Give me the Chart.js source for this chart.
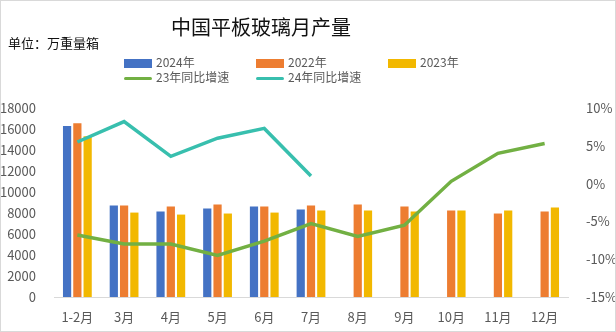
<!DOCTYPE html>
<html lang="zh">
<head>
    <meta charset="UTF-8">
    <title>中国平板玻璃月产量</title>
    <script src="https://cdn.jsdelivr.net/npm/chart.js"></script>
    <style>
        body {
            margin: 0;
            background: white;
            font-family: "Noto Sans CJK SC", sans-serif;
        }
        .wrap {
            position: relative;
            width: 614px;
            height: 330px;
            border: 1px solid #d9d9d9;
            overflow: hidden;
        }
        canvas {
            position: absolute;
            left: -1px;
            top: -1px;
        }
        .title {
            position: absolute;
            left: 0;
            width: 520px;
            top: 11px;
            text-align: center;
            font-size: 20px;
            color: #111;
        }
        .unit {
            position: absolute;
            left: 7px;
            top: 32px;
            font-size: 13px;
            color: #111;
        }
        .legend-item {
            position: absolute;
            font-size: 12px;
            color: #595959;
            line-height: 14px;
            white-space: nowrap;
        }
        .legend-item i {
            display: inline-block;
            width: 28px;
            margin-right: 4px;
            vertical-align: middle;
        }
    </style>
</head>
<body>

<div class="wrap">
    <canvas id="glassChart" width="616" height="332"></canvas>
    <div class="title">中国平板玻璃月产量</div>
    <div class="unit">单位：万重量箱</div>
    <div id="legend"></div>
</div>

<script>
    // monthly output, 10k weight boxes
    const months = ['1-2月', '3月', '4月', '5月', '6月', '7月', '8月', '9月', '10月', '11月', '12月'];
    const prod2024 = [16280, 8710, 8140, 8430, 8620, 8330, null, null, null, null, null];
    const prod2022 = [16540, 8710, 8620, 8810, 8620, 8710, 8810, 8620, 8230, 7950, 8140];
    const prod2023 = [15300, 8040, 7850, 7950, 8040, 8230, 8230, 8140, 8230, 8230, 8520];

    // year-on-year growth, %
    const yoy23 = [-6.8, -8.0, -8.0, -9.5, -7.6, -5.3, -7.0, -5.5, 0.3, 4.0, 5.3];
    const yoy24 = [5.5, 8.2, 3.6, 6.0, 7.3, 1.0, null, null, null, null, null];

    const blue = '#4472c4', orange = '#ed7d31', yellow = '#f2b800';
    const green = '#72b043', teal = '#38bfae';

    const axisFont = { family: '"Noto Sans CJK SC", sans-serif', size: 13 };

    let ctx = document.getElementById('glassChart').getContext('2d');
    let glassChart = new Chart(ctx, {
        data: {
            labels: months,
            datasets: [
                { type: 'bar', label: '2024年', data: prod2024, backgroundColor: blue, yAxisID: 'y', order: 2 },
                { type: 'bar', label: '2022年', data: prod2022, backgroundColor: orange, yAxisID: 'y', order: 2 },
                { type: 'bar', label: '2023年', data: prod2023, backgroundColor: yellow, yAxisID: 'y', order: 2 },
                {
                    type: 'line', label: '23年同比增速', data: yoy23, borderColor: green,
                    borderWidth: 3.5, pointRadius: 0, tension: 0, yAxisID: 'y1', order: 1
                },
                {
                    type: 'line', label: '24年同比增速', data: yoy24, borderColor: teal,
                    borderWidth: 3.5, pointRadius: 0, tension: 0, yAxisID: 'y1', order: 1
                }
            ]
        },
        options: {
            responsive: false,
            animation: false,
            layout: { padding: { top: 108, left: 0, right: 0, bottom: 0 } },
            datasets: {
                bar: { categoryPercentage: 0.66, barPercentage: 0.8 }
            },
            scales: {
                x: {
                    grid: { display: false },
                    border: { display: true, color: '#d9d9d9', width: 1 },
                    ticks: { color: '#595959', font: axisFont, padding: 4, maxRotation: 0 },
                    afterFit: s => { s.height = 35; }
                },
                y: {
                    position: 'left',
                    min: 0, max: 18000,
                    grid: { display: false },
                    border: { display: false },
                    ticks: { stepSize: 2000, color: '#595959', font: axisFont, padding: 10, callback: v => String(v) },
                    afterFit: s => { s.width = 54; }
                },
                y1: {
                    position: 'right',
                    min: -15, max: 10,
                    grid: { display: false },
                    border: { display: false },
                    ticks: { stepSize: 5, color: '#595959', font: axisFont, padding: 10, callback: v => v + '%' },
                    afterFit: s => { s.width = 48; }
                }
            },
            plugins: {
                legend: { display: false },
                tooltip: { enabled: false }
            }
        }
    });

    // two-row legend laid out in columns
    const legendItems = [
        { text: '2024年', color: blue, kind: 'box', x: 123, y: 54 },
        { text: '2022年', color: orange, kind: 'box', x: 255, y: 54 },
        { text: '2023年', color: yellow, kind: 'box', x: 387, y: 54 },
        { text: '23年同比增速', color: green, kind: 'line', x: 123, y: 69 },
        { text: '24年同比增速', color: teal, kind: 'line', x: 255, y: 69 }
    ];
    let legend = document.getElementById('legend');
    legendItems.forEach(item => {
        let el = document.createElement('div');
        el.className = 'legend-item';
        el.style.left = item.x + 'px';
        el.style.top = item.y + 'px';
        let sw = document.createElement('i');
        sw.style.background = item.color;
        sw.style.height = item.kind === 'box' ? '9px' : '3px';
        if (item.kind === 'line') sw.style.borderRadius = '2px';
        el.appendChild(sw);
        el.appendChild(document.createTextNode(item.text));
        legend.appendChild(el);
    });
</script>
</body>
</html>
